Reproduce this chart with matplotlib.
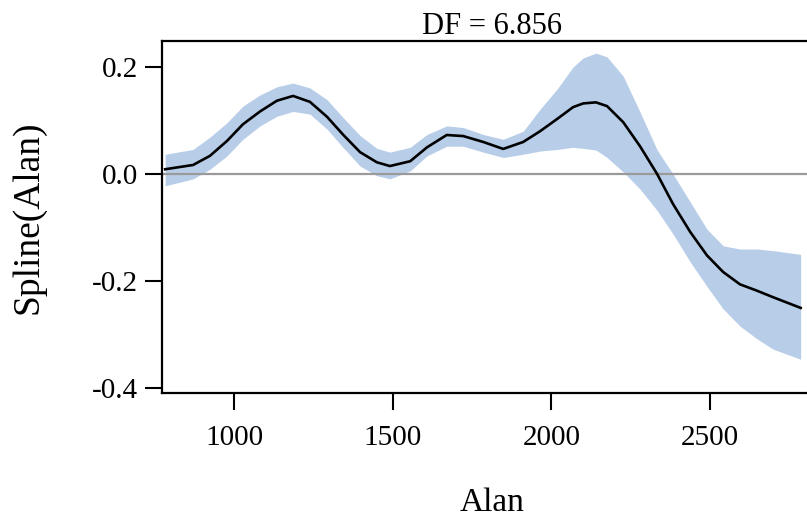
import matplotlib
matplotlib.use("Agg")
from matplotlib import pyplot as plt

# values
alan = [783, 871, 924, 978, 1028, 1082, 1135, 1186, 1239, 1293, 1343, 1397, 1450,
        1491, 1555, 1608, 1670, 1722, 1785, 1848, 1911, 1964, 2018, 2068, 2100, 2140,
        2175, 2226, 2279, 2333, 2383, 2437, 2490, 2541, 2594, 2648, 2698, 2785]
fit = [0.009, 0.017, 0.034, 0.062, 0.093, 0.117, 0.137, 0.146, 0.135, 0.107, 0.074,
       0.041, 0.022, 0.015, 0.024, 0.050, 0.073, 0.071, 0.060, 0.047, 0.060, 0.080,
       0.103, 0.125, 0.132, 0.134, 0.127, 0.097, 0.052, 0.000, -0.056, -0.108, -0.152,
       -0.183, -0.206, -0.218, -0.230, -0.250]
upper = [0.037, 0.046, 0.069, 0.096, 0.127, 0.148, 0.163, 0.170, 0.161, 0.139, 0.106,
         0.072, 0.048, 0.041, 0.050, 0.074, 0.090, 0.087, 0.074, 0.065, 0.080, 0.121,
         0.159, 0.200, 0.217, 0.226, 0.219, 0.183, 0.116, 0.045, 0.000, -0.052, -0.103,
         -0.134, -0.140, -0.140, -0.143, -0.150]
lower = [-0.022, -0.009, 0.009, 0.034, 0.065, 0.090, 0.108, 0.117, 0.112, 0.084, 0.050,
         0.015, -0.003, -0.009, 0.006, 0.034, 0.052, 0.052, 0.041, 0.031, 0.037, 0.043,
         0.046, 0.050, 0.048, 0.045, 0.031, 0.004, -0.028, -0.068, -0.112, -0.164, -0.210,
         -0.252, -0.284, -0.308, -0.327, -0.346]
xticks = [1000, 1500, 2000, 2500]
yticks = [-0.4, -0.2, 0.0, 0.2]
ytick_labels = ["-0.4", "-0.2", "0.0", "0.2"]

plt.rcParams['font.family'] = ['Liberation Serif', 'DejaVu Serif']

fig = plt.figure(figsize=(8.07, 5.25), dpi=100)
ax = fig.add_axes([0.2007, 0.2514, 0.817, 0.6705])

ax.fill_between(alan, lower, upper, color="#b8cee8", lw=0)
ax.axhline(0, color="#9a9a9a", lw=1.6)
ax.plot(alan, fit, color="black", lw=1.9, solid_joinstyle="round")

ax.set_xlim(773, 2850)
ax.set_ylim(-0.409, 0.2486)
ax.set_xticks(xticks)
ax.set_yticks(yticks)
ax.set_yticklabels(ytick_labels)
ax.tick_params(axis="both", length=12, width=1.5, labelsize=21)
ax.tick_params(axis="x", pad=11)
ax.tick_params(axis="y", pad=5)
for s in ax.spines.values():
    s.set_linewidth(1.6)

ax.set_title("DF = 6.856", fontsize=22, pad=5)
ax.set_xlabel("Alan", fontsize=24, labelpad=26)
ax.set_ylabel("Spline(Alan)", fontsize=27, labelpad=34)

fig.savefig("out.png", dpi=100)
